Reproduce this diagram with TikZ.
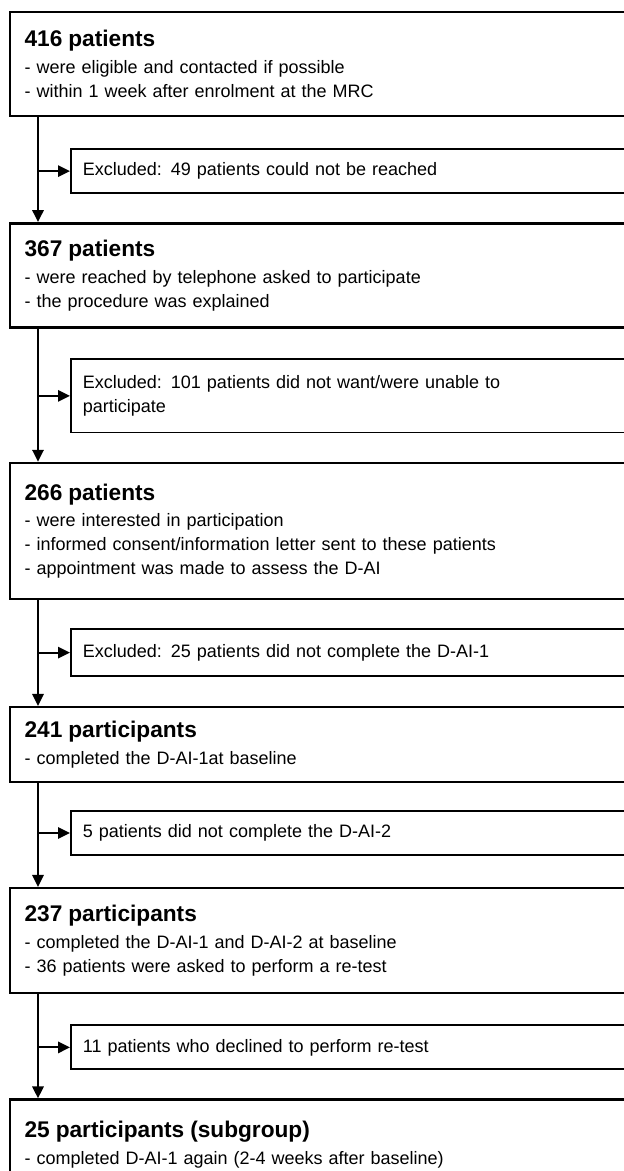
\documentclass[tikz,border=0pt]{standalone}
\usepackage{fontspec}
\setmainfont{Liberation Sans}
\usetikzlibrary{arrows.meta,positioning}
\tikzset{
  basebox/.style={rectangle,draw=black,align=left,
                  font=\fontsize{13.5}{18}\selectfont},
  mainbox/.style={basebox,line width=1.9pt,text width=600pt,inner xsep=11pt},
  exclbox/.style={basebox,line width=1.4pt,text width=500pt,inner xsep=9pt,
                  minimum height=33pt},
  flowarr/.style={-{Triangle[length=9pt,width=8.5pt]},line width=1.6pt}
}
\newcommand{\boxtitle}[1]{{\bfseries\fontsize{17}{20}\selectfont #1}\\[2pt]}

\begin{document}
\begin{tikzpicture}

  \useasboundingbox (0,0) rectangle (468pt,-878.25pt);
  \clip (0,0) rectangle (468pt,-878.25pt);

  \node[mainbox,minimum height=78pt,anchor=north west] (pat416) at (6.5pt,-8pt)
      {\boxtitle{416 patients}- were eligible and contacted if possible\\
       - within 1 week after enrolment at the MRC};

  \node[exclbox, below right=23.25pt and 46pt of pat416.south west] (exc49)
      {Excluded: 49 patients could not be reached};

  \node[mainbox,minimum height=78pt, below right=21pt and -46pt of exc49.south west] (pat367)
      {\boxtitle{367 patients}- were reached by telephone asked to participate\\
       - the procedure was explained};

  \node[exclbox,minimum height=55pt, below right=22.25pt and 46pt of pat367.south west] (exc101)
      {Excluded: 101 patients did not want/were unable to\\participate};

  \node[mainbox,minimum height=102pt, below right=21.25pt and -46pt of exc101.south west] (pat266)
      {\boxtitle{266 patients}- were interested in participation\\
       - informed consent/information letter sent to these patients\\
       - appointment was made to assess the D-AI};

  % Baseline measurements
  \node[exclbox,minimum height=35pt, below right=21pt and 46pt of pat266.south west] (exc25)
      {Excluded: 25 patients did not complete the D-AI-1};

  \node[mainbox,minimum height=56pt, below right=21.75pt and -46pt of exc25.south west] (part241)
      {\boxtitle{241 participants}- completed the D-AI-1at baseline};

  \node[exclbox, below right=20.25pt and 46pt of part241.south west] (exc5)
      {5 patients did not complete the D-AI-2};

  \node[mainbox,minimum height=78.75pt, below right=23.25pt and -46pt of exc5.south west] (part237)
      {\boxtitle{237 participants}- completed the D-AI-1 and D-AI-2 at baseline\\
       - 36 patients were asked to perform a re-test};

  % Re-test
  \node[exclbox, below right=22.5pt and 46pt of part237.south west] (exc11)
      {11 patients who declined to perform re-test};

  \node[mainbox,minimum height=67.5pt, below right=21pt and -46pt of exc11.south west] (part25)
      {\boxtitle{25 participants (subgroup)}- completed D-AI-1 again (2-4 weeks after baseline)};

  \draw[flowarr] ([xshift=22pt]pat416.south west) -- ([xshift=22pt]pat367.north west);
  \draw[flowarr] ([xshift=-24pt]exc49.west) -- (exc49.west);
  \draw[flowarr] ([xshift=22pt]pat367.south west) -- ([xshift=22pt]pat266.north west);
  \draw[flowarr] ([xshift=-24pt]exc101.west) -- (exc101.west);
  \draw[flowarr] ([xshift=22pt]pat266.south west) -- ([xshift=22pt]part241.north west);
  \draw[flowarr] ([xshift=-24pt]exc25.west) -- (exc25.west);
  \draw[flowarr] ([xshift=22pt]part241.south west) -- ([xshift=22pt]part237.north west);
  \draw[flowarr] ([xshift=-24pt]exc5.west) -- (exc5.west);
  \draw[flowarr] ([xshift=22pt]part237.south west) -- ([xshift=22pt]part25.north west);
  \draw[flowarr] ([xshift=-24pt]exc11.west) -- (exc11.west);

\end{tikzpicture}
\end{document}
